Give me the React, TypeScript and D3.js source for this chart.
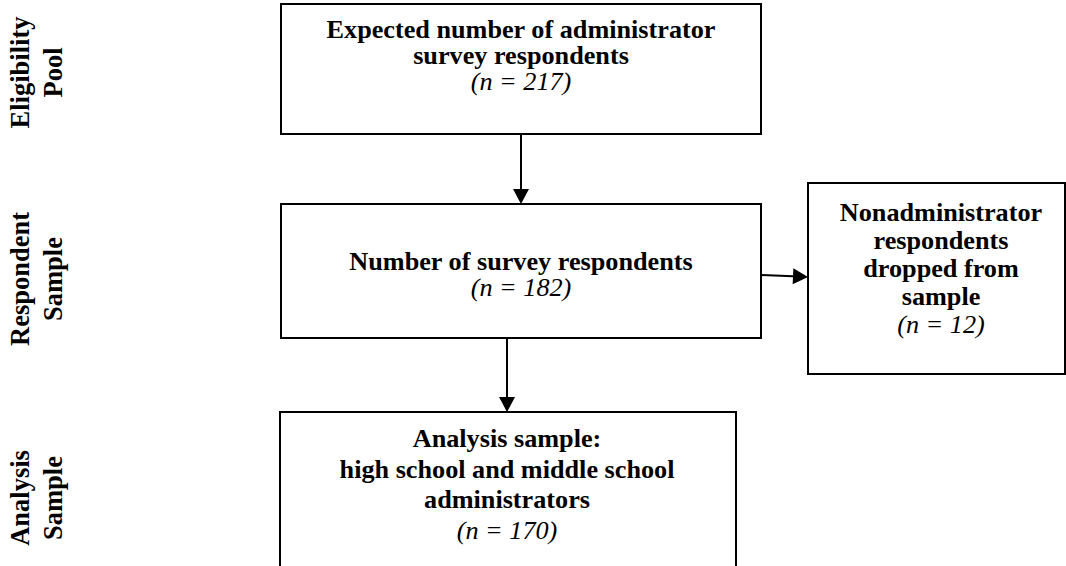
import React from 'react';
import * as d3 from 'd3';

// Flow stages (left, rotated labels)
const stageLabels: string[][] = [
  ['Eligibility', 'Pool'],
  ['Respondent', 'Sample'],
  ['Analysis', 'Sample'],
];

// Box titles and sample counts
const boxTitles: string[][] = [
  ['Expected number of administrator', 'survey respondents'],
  ['Number of survey respondents'],
  ['Nonadministrator', 'respondents', 'dropped from', 'sample'],
  ['Analysis sample:', 'high school and middle school', 'administrators'],
];
const boxCounts = [217, 182, 12, 170];

// box index pairs: from -> to
const links: [number, number][] = [
  [0, 1],
  [1, 2],
  [1, 3],
];

const W = 1066;
const H = 566;

// layout (pixels)
const boxRects = [
  { x: 281, y: 4, w: 480, h: 130 },
  { x: 281, y: 204, w: 480, h: 134 },
  { x: 808, y: 183, w: 257, h: 191 },
  { x: 280, y: 412, w: 456, h: 170 },
];
const textCx = [521, 521, 941, 507];
const firstBaseline = [37.5, 269.5, 220.5, 447];
const lineGap = [26, 26, 28, 30.5];
const stageCy = [72.5, 279, 498];

const FONT = "'Liberation Serif', 'Times New Roman', Times, serif";
const SX = 1.07; // text in the source is slightly stretched horizontally
const FS = 24.5;

const arrowPath = (x1: number, y1: number, x2: number, y2: number) => {
  const p = d3.path();
  const ang = Math.atan2(y2 - y1, x2 - x1);
  const len = 15;
  const half = 8;
  const bx = x2 - len * Math.cos(ang);
  const by = y2 - len * Math.sin(ang);
  p.moveTo(x2, y2);
  p.lineTo(bx + half * Math.sin(ang), by - half * Math.cos(ang));
  p.lineTo(bx - half * Math.sin(ang), by + half * Math.cos(ang));
  p.closePath();
  return { head: p.toString(), bx, by };
};

const linkPoints = (a: number, b: number): [number, number, number, number] => {
  const A = boxRects[a];
  const B = boxRects[b];
  if (B.x > A.x + A.w) {
    // sideways
    return [A.x + A.w, 275, B.x, 277];
  }
  const cx = b === 3 ? textCx[3] : textCx[a];
  return [cx, A.y + A.h, cx, B.y];
};

export default function App() {
  return (
    <svg
      width={W}
      height={H}
      viewBox={`0 0 ${W} ${H}`}
      style={{ position: 'absolute', left: 0, top: 0, background: '#fff' }}
    >
      {/* stage labels */}
      {stageLabels.map((lines, i) => (
        <g key={'s' + i}>
          {lines.map((t, j) => (
            <text
              key={j}
              transform={`translate(${j === 0 ? 29 : 61.5},${stageCy[i]}) rotate(-90)`}
              textAnchor="middle"
              style={{ fontFamily: FONT, fontWeight: 'bold', fontSize: 26.5 }}
              fill="#000"
            >
              {t}
            </text>
          ))}
        </g>
      ))}

      {/* boxes */}
      {boxRects.map((r, i) => (
        <rect
          key={'b' + i}
          x={r.x}
          y={r.y}
          width={r.w}
          height={r.h}
          fill="#fff"
          stroke="#000"
          strokeWidth={2}
        />
      ))}

      {/* links */}
      {links.map(([a, b], i) => {
        const [x1, y1, x2, y2] = linkPoints(a, b);
        const { head, bx, by } = arrowPath(x1, y1, x2, y2);
        return (
          <g key={'l' + i}>
            <line x1={x1} y1={y1} x2={bx} y2={by} stroke="#000" strokeWidth={2} />
            <path d={head} fill="#000" />
          </g>
        );
      })}

      {/* box text */}
      {boxTitles.map((lines, i) => (
        <g key={'t' + i}>
          {lines.map((t, j) => (
            <text
              key={j}
              transform={`translate(${textCx[i]},${firstBaseline[i] + j * lineGap[i]}) scale(${SX},1)`}
              textAnchor="middle"
              style={{ fontFamily: FONT, fontWeight: 'bold', fontSize: FS }}
              fill="#000"
            >
              {t}
            </text>
          ))}
          <text
            transform={`translate(${textCx[i]},${firstBaseline[i] + lines.length * lineGap[i]}) scale(${SX},1)`}
            textAnchor="middle"
            style={{ fontFamily: FONT, fontStyle: 'italic', fontSize: FS }}
            fill="#000"
          >
            {`(n = ${boxCounts[i]})`}
          </text>
        </g>
      ))}
    </svg>
  );
}
